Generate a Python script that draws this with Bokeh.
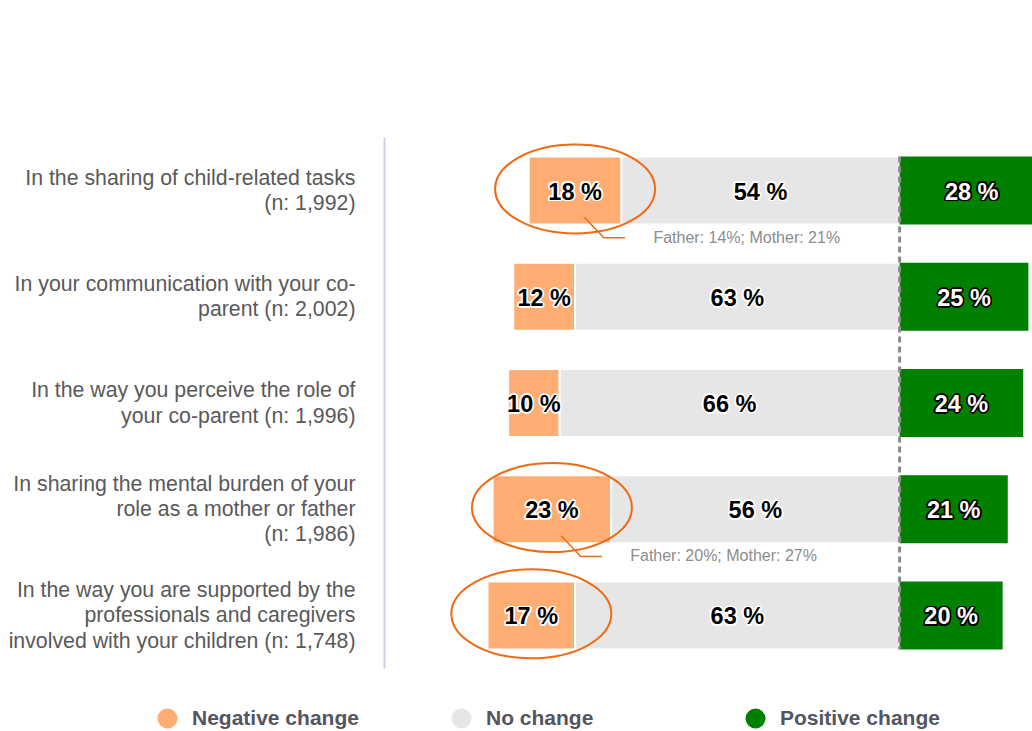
from bokeh.plotting import figure
from bokeh.layouts import column
from bokeh.models import Range1d, FactorRange, Legend, LegendItem, ColumnDataSource
from bokeh.core.properties import value
from bokeh.embed import file_html
from bokeh.resources import INLINE

categories = [
    "In the sharing of child-related tasks\n(n: 1,992)",
    "In your communication with your co-\nparent (n: 2,002)",
    "In the way you perceive the role of\nyour co-parent (n: 1,996)",
    "In sharing the mental burden of your\nrole as a mother or father\n(n: 1,986)",
    "In the way you are supported by the\nprofessionals and caregivers\ninvolved with your children (n: 1,748)",
]
negative = [18, 12, 10, 23, 17]
no_change = [54, 63, 66, 56, 63]
positive = [28, 25, 24, 21, 20]
highlighted = [True, False, False, True, True]
notes = ["Father: 14%; Mother: 21%", "", "", "Father: 20%; Mother: 27%", ""]
legend_labels = ["Negative change", "No change", "Positive change"]

C_NEG = "#FFAD73"
C_NONE = "#E6E6E6"
C_POS = "#008000"
C_RING = "#F06A14"
FONT = "Liberation Sans"

p = figure(width=1032, height=690, output_backend="svg", toolbar_location=None,
           x_range=Range1d(-100, 25.8), y_range=FactorRange(*reversed(categories)),
           min_border_left=384, min_border_right=0, min_border_top=137, min_border_bottom=22)
p.frame_align = False
p.outline_line_color = None
p.xaxis.visible = False
p.xgrid.visible = False
p.ygrid.visible = False
p.background_fill_color = "white"
p.border_fill_color = "white"

ax = p.yaxis[0]
ax.axis_line_color = "#C9D1E3"
ax.axis_line_width = 2
ax.major_tick_line_color = None
ax.minor_tick_line_color = None
ax.major_label_standoff = 23
ax.major_label_text_font = FONT
ax.major_label_text_font_size = "21.3px"
ax.major_label_text_color = "#595959"
ax.major_label_text_line_height = 1.05

src = ColumnDataSource(dict(
    cat=categories,
    neg_l=[-(n + z) for n, z in zip(negative, no_change)],
    neg_r=[-z for z in no_change],
    none_l=[-z for z in no_change],
    zero=[0] * len(categories),
    pos=positive,
    neg_c=[-(z + n / 2) for n, z in zip(negative, no_change)],
    none_c=[-z / 2 for z in no_change],
    pos_c=[v / 2 for v in positive],
    neg_t=[f"{v} %" for v in negative],
    none_t=[f"{v} %" for v in no_change],
    pos_t=[f"{v} %" for v in positive],
))

BH = 0.64
p.hbar(y="cat", left="neg_l", right="neg_r", height=BH, source=src,
       fill_color=C_NEG, line_color="white", line_width=2)
p.hbar(y="cat", left="none_l", right="zero", height=BH, source=src,
       fill_color=C_NONE, line_color="white", line_width=2)
p.hbar(y="cat", left="zero", right="pos", height=BH, source=src,
       fill_color=C_POS, line_color=None)

# dashed zero line
p.segment(x0=[0], y0=[(categories[0], BH / 2)], x1=[0], y1=[(categories[-1], -BH / 2)],
          line_color="#8A8A8A", line_width=3, line_dash="6 4")

# value labels with halo
HALO = [(1.8, 0), (-1.8, 0), (0, 1.8), (0, -1.8), (1.3, 1.3), (-1.3, 1.3), (1.3, -1.3), (-1.3, -1.3)]
LBL_SIZE = "23.5px"
for col, tc, fg, bg in [("neg_c", "neg_t", "black", "white"), ("none_c", "none_t", "black", "white"),
                        ("pos_c", "pos_t", "white", "black")]:
    for dx, dy in HALO:
        p.text(x=col, y="cat", text=tc, source=src, text_align="center", text_baseline="middle",
               x_offset=dx, y_offset=dy + 1,
               text_font=value(FONT), text_font_style="bold", text_font_size=LBL_SIZE, text_color=bg)
    p.text(x=col, y="cat", text=tc, source=src, text_align="center", text_baseline="middle",
           y_offset=1, text_font=value(FONT), text_font_style="bold", text_font_size=LBL_SIZE,
           text_color=fg)

# highlight rings and notes
for i, cat in enumerate(categories):
    if not highlighted[i]:
        continue
    cx = -(no_change[i] + negative[i] / 2)
    p.ellipse(x=[cx], y=[(cat, 0.015)], width=160, height=89, width_units="screen",
              height_units="screen", fill_color=None, line_color=C_RING, line_width=2)
    if notes[i]:
        p.line(x=[cx + 1.8, cx + 5.6, cx + 9.7], y=[(cat, -0.25), (cat, -0.445), (cat, -0.445)],
               line_color=C_RING, line_width=1.5)
        p.text(x=[cx + 15.2], y=[(cat, -0.44)], text=[notes[i]], text_align="left",
               text_baseline="middle", text_font=value(FONT), text_font_size="16px",
               text_color="#8C8C8C")

# legend strip
lf = figure(width=1032, height=41, output_backend="svg", toolbar_location=None,
            x_range=Range1d(0, 1), y_range=Range1d(0, 1),
            min_border_left=0, min_border_right=0, min_border_top=0, min_border_bottom=0)
lf.frame_align = False
lf.outline_line_color = None
lf.axis.visible = False
lf.grid.visible = False
lg_r = [lf.scatter(x=[-10], y=[-10], size=20, marker="circle", fill_color=c, line_color=None)
        for c in [C_NEG, C_NONE, C_POS]]
legend = Legend(items=[LegendItem(label=l, renderers=[r]) for l, r in zip(legend_labels, lg_r)],
                orientation="horizontal", location=(142, -12), glyph_width=50, glyph_height=50,
                label_standoff=0, label_width=244, spacing=0, padding=0, margin=0,
                border_line_color=None, background_fill_alpha=0,
                label_text_font=FONT, label_text_font_style="bold", label_text_font_size="21px",
                label_text_color="#53565F")
lf.add_layout(legend, "center")

layout = column(p, lf, spacing=0)
open("out.html", "w").write(file_html(layout, INLINE))
